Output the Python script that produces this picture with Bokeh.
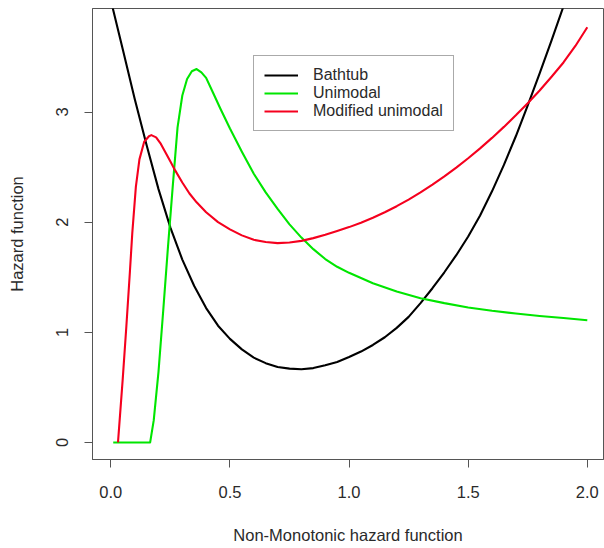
from bokeh.plotting import figure
from bokeh.models import FixedTicker, Legend, LegendItem, Range1d
from bokeh.embed import file_html
from bokeh.resources import INLINE

# ---- data ----
bathtub_x = [0.005, 0.05, 0.10, 0.15, 0.20, 0.25, 0.30, 0.35, 0.40, 0.45, 0.50,
             0.55, 0.60, 0.65, 0.70, 0.75, 0.80, 0.85, 0.90, 0.95, 1.00, 1.05, 1.10, 1.15,
             1.20, 1.25, 1.30, 1.35, 1.40, 1.45, 1.50, 1.55, 1.60, 1.65, 1.70, 1.75, 1.80,
             1.85, 1.90, 1.95]
bathtub_y = [3.97, 3.57, 3.12, 2.70, 2.30, 1.95, 1.66, 1.42, 1.22, 1.06, 0.94,
             0.845, 0.77, 0.72, 0.685, 0.67, 0.665, 0.675, 0.70, 0.73, 0.775, 0.825, 0.885, 0.955,
             1.04, 1.14, 1.265, 1.40, 1.545, 1.70, 1.87, 2.06, 2.28, 2.52, 2.78, 3.06, 3.35,
             3.65, 3.96, 4.28]

unimodal_x = [0.01, 0.165, 0.18, 0.20, 0.22, 0.24, 0.26, 0.28, 0.30, 0.32, 0.34, 0.36, 0.38,
              0.40, 0.43, 0.46, 0.50, 0.55, 0.60, 0.65, 0.70, 0.75, 0.80, 0.85, 0.90, 0.95,
              1.00, 1.10, 1.20, 1.30, 1.40, 1.50, 1.60, 1.70, 1.80, 1.90, 2.00]
unimodal_y = [0.0, 0.0, 0.20, 0.64, 1.20, 1.78, 2.33, 2.86, 3.15, 3.30, 3.37, 3.39, 3.36,
              3.31, 3.17, 3.03, 2.85, 2.64, 2.44, 2.27, 2.12, 1.98, 1.86, 1.755, 1.665, 1.595,
              1.54, 1.445, 1.37, 1.31, 1.265, 1.225, 1.195, 1.17, 1.148, 1.13, 1.11]

modified_x = [0.03, 0.05, 0.065, 0.08, 0.09, 0.105, 0.12, 0.14, 0.16, 0.17, 0.19, 0.21, 0.23,
              0.25, 0.27, 0.30, 0.33, 0.36, 0.40, 0.45, 0.50, 0.55, 0.60, 0.65, 0.70, 0.75,
              0.80, 0.85, 0.90, 0.95, 1.00, 1.05, 1.10, 1.15, 1.20, 1.25, 1.30, 1.35, 1.40,
              1.45, 1.50, 1.55, 1.60, 1.65, 1.70, 1.75, 1.80, 1.85, 1.90, 1.95, 2.00]
modified_y = [0.0, 0.58, 1.05, 1.55, 1.90, 2.32, 2.57, 2.73, 2.78, 2.79, 2.77, 2.71, 2.63,
              2.55, 2.47, 2.36, 2.26, 2.18, 2.09, 2.00, 1.935, 1.88, 1.84, 1.82, 1.81, 1.815,
              1.83, 1.855, 1.885, 1.92, 1.955, 1.995, 2.04, 2.09, 2.145, 2.205, 2.27, 2.34, 2.415,
              2.495, 2.58, 2.67, 2.765, 2.865, 2.97, 3.08, 3.195, 3.32, 3.45, 3.60, 3.77]

series_names = ["Bathtub", "Unimodal", "Modified unimodal"]
series_colors = ["#000000", "#00E600", "#F5001E"]

x_ticks = [0.0, 0.5, 1.0, 1.5, 2.0]
x_tick_labels = ["0.0", "0.5", "1.0", "1.5", "2.0"]
y_ticks = [0, 1, 2, 3]
y_tick_labels = ["0", "1", "2", "3"]

x_title = "Non-Monotonic hazard function"
y_title = "Hazard function"

FONT = "Liberation Sans"
TXT = "#2a2a2a"
BOX = "#555555"

p = figure(width=604, height=548, output_backend="svg", toolbar_location=None,
           x_range=Range1d(-0.077, 2.068), y_range=Range1d(-0.155, 3.94),
           min_border_left=92, min_border_right=1, min_border_top=8, min_border_bottom=89)

p.background_fill_color = "white"
p.border_fill_color = "white"
p.outline_line_color = BOX
p.outline_line_width = 1
p.xgrid.visible = False
p.ygrid.visible = False

for ax, ticks, labels in ((p.xaxis[0], x_ticks, x_tick_labels), (p.yaxis[0], y_ticks, y_tick_labels)):
    ax.ticker = FixedTicker(ticks=ticks, minor_ticks=[])
    ax.major_label_overrides = {t: l for t, l in zip(ticks, labels)}
    ax.axis_line_color = BOX
    ax.major_tick_line_color = BOX
    ax.major_tick_out = 8
    ax.major_tick_in = 0
    ax.minor_tick_line_color = None
    ax.major_label_text_font = FONT
    ax.major_label_text_font_size = "16.5px"
    ax.major_label_text_color = TXT
    ax.axis_label_text_font = FONT
    ax.axis_label_text_font_size = "16.5px"
    ax.axis_label_text_font_style = "normal"
    ax.axis_label_text_color = TXT

p.xaxis.axis_label = x_title
p.yaxis.axis_label = y_title
p.xaxis.major_label_standoff = 18
p.xaxis.axis_label_standoff = 25
p.yaxis.major_label_orientation = "vertical"
p.yaxis.major_label_standoff = 16
p.yaxis.axis_label_standoff = 28

renderers = []
for xs, ys, c in ((bathtub_x, bathtub_y, series_colors[0]),
                  (unimodal_x, unimodal_y, series_colors[1]),
                  (modified_x, modified_y, series_colors[2])):
    renderers.append(p.line(xs, ys, line_color=c, line_width=2.1, line_join="round"))

legend = Legend(items=[LegendItem(label=n, renderers=[r]) for n, r in zip(series_names, renderers)],
                location=(161, 328), margin=0, padding=10, spacing=0,
                glyph_width=34, glyph_height=18, label_height=18, label_standoff=15,
                label_text_font=FONT, label_text_font_size="16px", label_text_color=TXT,
                border_line_color=BOX, border_line_width=1,
                background_fill_color="white", background_fill_alpha=1.0)
p.add_layout(legend)

open("out.html", "w").write(file_html(p, INLINE))
